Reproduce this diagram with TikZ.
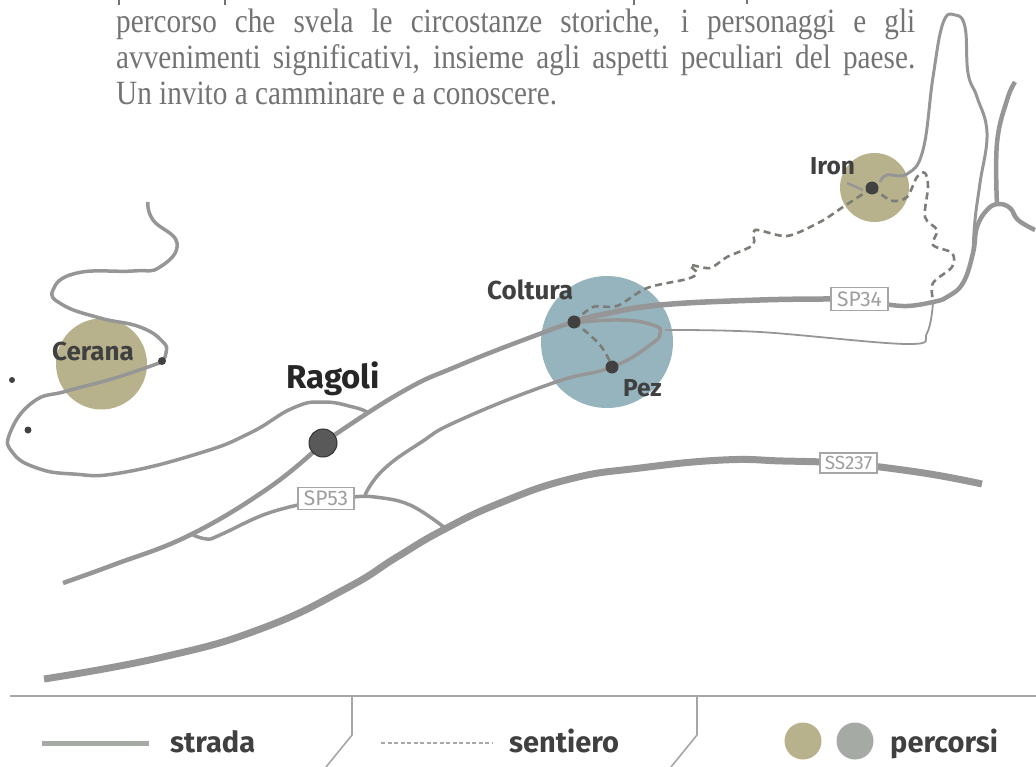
\documentclass[tikz,border=0pt]{standalone}
\usepackage{fontspec}
\setmainfont{Liberation Serif}
\newfontfamily\labelfont{Fira Sans}
\newfontfamily\bodyfont[FakeStretch=0.86]{Liberation Serif}
\definecolor{roadc}{RGB}{150,150,150}
\definecolor{olive}{RGB}{184,178,140}
\definecolor{bluec}{RGB}{150,180,190}
\definecolor{dotc}{RGB}{65,65,65}
\definecolor{legc}{RGB}{165,170,165}
\definecolor{trailc}{RGB}{125,125,120}
\tikzset{
 road/.style={draw=roadc,line width=#1,line join=round},
 road/.default=3,
 trail/.style={draw=trailc,line width=2.6,dash pattern=on 7pt off 4.5pt},
 place/.style={fill=dotc,circle,inner sep=0pt,minimum size=#1},
 area/.style={circle,inner sep=0pt,minimum size=#1},
 lab/.style={font=\labelfont\bfseries\fontsize{24.5}{24.5}\selectfont,text=black!75,inner sep=0pt,anchor=base west},
 rbox/.style={draw=black!35,line width=1.6,fill=white,text=black!38,font=\labelfont\fontsize{21}{21}\selectfont,inner sep=0pt,anchor=center},
 leg/.style={font=\labelfont\bfseries\fontsize{29}{29}\selectfont,text=black!75,inner sep=0pt,anchor=base west},
 rule/.style={draw=black!35,line width=1.6},
 body/.style={font=\bodyfont\fontsize{34}{36}\selectfont,text=black!55,inner sep=0pt,anchor=base west}
}
\begin{document}
\begin{tikzpicture}[x=1pt,y=-1pt]
\useasboundingbox (0,0) rectangle (1036,767);
% cut line of text
\draw[black!55,line width=1.6] (119,0)--(119,5) (225,0)--(225,5) (634,0)--(634,5) (747,0)--(747,4);
\node[body] (t1) at (116,33) {\hbox to 799pt{percorso che svela le circostanze storiche, i personaggi e gli}};
\node[body] (t2) at (116,69) {\hbox to 799pt{avvenimenti significativi, insieme agli aspetti peculiari del paese.}};
\node[body] (t3) at (116,105) {Un invito a camminare e a conoscere.};
% areas
\node[area=91pt,fill=olive] (acer) at (101.5,364) {};
\node[area=132pt,fill=bluec] (acol) at (607,342) {};
\node[area=69pt,fill=olive] (airon) at (874.5,187.5) {};
% places
\coordinate (ragc) at (323,443);
\coordinate (colc) at (574,322);
\coordinate (pezc) at (612,367);
\coordinate (ironc) at (872,188);
% roads
\draw[road=3.5] plot[smooth,tension=0.8] coordinates {(148,202) (153,220) (177,243) (160,267) (133,271) (77,273) (53,290) (63,305) (100,318) (140,327) (163,342) (166,353) (162,362)};
\draw[road=3.5] plot[smooth,tension=0.8] coordinates {(162,362) (115,378) (67,391) (33,402) (10,433) (13,453) (37,468) (73,474) (120,473) (200,453) (250,433) (293,408) (323,402) (353,407) (367,412)};
\draw[road=4.5] plot[smooth,tension=0.7] coordinates {(63,583) (113,565) (190,535) (270,487) (323,443)};
\draw[road=4.5] plot[smooth,tension=0.8] coordinates {(323,443) (400,393) (460,365) (542,333) (574,322)};
\draw[road=3.5] plot[smooth,tension=0.7] coordinates {(193,535) (207,539) (220,535) (263,515) (298,505)};
\draw[road=3.5] plot[smooth,tension=0.7] coordinates {(354,497) (375,497) (410,505) (445,528)};
\draw[road=3.5] plot[smooth,tension=0.8] coordinates {(365,495) (383,470) (420,443) (460,420) (553,383) (612,367) (650,345) (660,333) (653,325) (620,320) (574,323)};
\draw[road=5.5] plot[smooth,tension=0.7] coordinates {(574,322) (600,315) (660,305) (760,300) (835,299)};
\draw[road=4.5] plot[smooth,tension=0.7] coordinates {(885,304) (907,306) (933,302) (947,297) (963,283) (973,253) (977,227) (987,210) (998,204) (1010,208) (1018,220) (1035,230)};
\draw[road=4.5] plot[smooth,tension=0.7] coordinates {(997,205) (997,143) (1007,100) (1015,82)};
\draw[road=1.8] plot[smooth,tension=0.6] coordinates {(665,330) (760,332) (907,344) (927,333) (933,303)};
\draw[road=3] plot[smooth,tension=0.7] coordinates {(880,182) (887,175) (907,174) (923,150) (933,77) (943,23) (955,15) (965,27) (968,73) (977,97) (987,133) (980,183) (975,220) (973,253)};
\draw[road=2.5] plot[smooth] coordinates {(847,183) (863,190)};
\draw[road=7] plot[smooth,tension=0.8] coordinates {(44,679) (163,657) (263,628) (347,588) (397,557) (443,530) (500,503) (570,479) (640,468) (723,460) (783,461) (825,462)};
\draw[road=7] plot[smooth,tension=0.8] coordinates {(872,466) (930,474) (982,484)};
% trails
\draw[trail] plot[smooth,tension=0.5] coordinates {(ironc) (843,207) (820,222) (787,236) (755,230) (753,245) (727,257) (710,268) (690,265) (697,273) (687,279) (647,288) (617,306) (593,307) (colc)};
\draw[trail] plot[smooth,tension=0.55] coordinates {(ironc) (882,195) (893,201) (907,197) (917,177) (925,173) (928,187) (925,217) (937,230) (933,245) (952,253) (952,267) (933,283) (933,300)};
\draw[trail] plot[smooth,tension=0.7] coordinates {(colc) (600,345) (pezc)};
% dots
\node[place=8pt] (d1) at (162,361) {};
\node[place=7pt] (d2) at (28,430) {};
\node[place=6pt] (d3) at (12,380) {};
\node[place=28pt,fill=black!65,draw=black!80,line width=1] (rag) at (ragc) {};
\node[place=13pt] (col) at (colc) {};
\node[place=13pt] (pez) at (pezc) {};
\node[place=13pt] (iron) at (ironc) {};
% road boxes
\node[rbox,minimum width=56,minimum height=22] (sp53) at (326,498.5) {SP53};
\node[rbox,minimum width=57,minimum height=23] (sp34) at (859.5,299) {SP34};
\node[rbox,minimum width=57,minimum height=20,font=\labelfont\fontsize{19}{19}\selectfont] (ss237) at (848.5,463) {SS237};
% labels
\node[lab,font=\labelfont\bfseries\fontsize{26}{26}\selectfont] (lcer) at (52,360) {Cerana};
\node[lab,font=\labelfont\bfseries\fontsize{33}{33}\selectfont,text=black!85] (lrag) at (286,388) {Ragoli};
\node[lab,font=\labelfont\bfseries\fontsize{26}{26}\selectfont] (lcol) at (487,300) {Coltura};
\node[lab] (lpez) at (623,396) {Pez};
\node[lab] (liron) at (810,175) {Iron};
% legend
\coordinate (r0) at (10,696); \coordinate (r1) at (1036,696);
\draw[rule] (r0) -- (r1);
\draw[rule] (352,696) -- (352,735) -- (326,767);
\draw[rule] (697,696) -- (697,735) -- (671,767);
\coordinate (s0) at (42,743); \coordinate (s1) at (149,743);
\draw[draw=legc,line width=5] (s0) -- (s1);
\node[leg] (lstr) at (170,752) {strada};
\coordinate (e0) at (381,743); \coordinate (e1) at (492,743);
\draw[draw=legc,line width=2,dash pattern=on 4pt off 2.5pt] (e0) -- (e1);
\node[leg] (lsen) at (509,752) {sentiero};
\node[area=37pt,fill=olive] (c1) at (803,741) {};
\node[area=37pt,fill=legc] (c2) at (855,741) {};
\node[leg] (lper) at (890,752) {percorsi};
\end{tikzpicture}
\end{document}
